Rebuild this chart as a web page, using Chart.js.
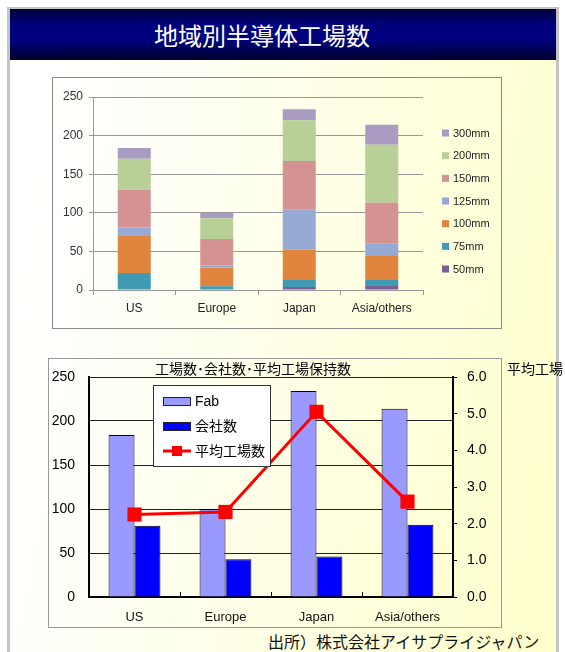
<!DOCTYPE html>
<html>
<head>
<meta charset="utf-8">
<script src="https://cdn.jsdelivr.net/npm/chart.js@4.4.1/dist/chart.umd.min.js"></script>
<style>
  html, body { margin: 0; padding: 0; background: #fff; }
  body { width: 565px; height: 652px; position: relative; overflow: hidden;
         font-family: "Liberation Sans", "Noto Sans CJK JP", sans-serif; }
  #frame { position: absolute; left: 7px; top: 7px; width: 546px; height: 660px;
           border: 3px solid #c4c4c4; border-bottom: none;
           background: linear-gradient(100deg, #ffffff 0%, #fffffa 22%, #ffffe2 60%, #ffffcc 100%); }
  #titlebar { position: absolute; left: 10px; top: 9px; width: 546px; height: 51px;
              background: linear-gradient(to bottom, #000038 0%, #00007c 30%, #000080 60%, #00002c 100%); }
  #title { position: absolute; left: 154px; top: 20px; color: #fff; font-size: 24px;
           font-family: "Noto Sans CJK JP", sans-serif; line-height: 30px; white-space: nowrap; }
  .box { position: absolute; border: 1px solid #8a8a8a; box-sizing: border-box; }
  canvas { position: absolute; }
  .txt { position: absolute; white-space: nowrap; font-family: "Noto Sans CJK JP", sans-serif; color: #000; }
</style>
</head>
<body>
<div id="frame"></div>
<div id="titlebar"></div>
<div id="title">地域別半導体工場数</div>

<div class="box" style="left:52px;top:77px;width:450px;height:252px;"></div>
<canvas id="chart1" width="450" height="252" style="left:52px;top:77px;"></canvas>

<div class="box" style="left:48px;top:358px;width:454px;height:270px;border-color:#999;"></div>
<canvas id="chart2" width="454" height="270" style="left:48px;top:358px;"></canvas>
<div class="txt" style="left:155px;top:358px;font-size:14px;line-height:20px;">工場数･会社数･平均工場保持数</div>
<div class="txt" style="left:507px;top:358px;font-size:14px;line-height:20px;">平均工場</div>
<div class="txt" style="left:268px;top:630px;font-size:16px;line-height:22px;color:#111;">出所）株式会社アイサプライジャパン</div>

<script>
// regions
const regions = ["US", "Europe", "Japan", "Asia/others"];

// fabs by wafer size (stacked)
const sizeLabels = ["50mm", "75mm", "100mm", "125mm", "150mm", "200mm", "300mm"];
const fab50 = [1, 1, 4, 6];
const fab75 = [21, 4, 10, 7];
const fab100 = [49, 24, 38, 31];
const fab125 = [10, 3, 52, 16];
const fab150 = [49, 34, 63, 53];
const fab200 = [40, 27, 53, 75];
const fab300 = [14, 7, 14, 26];
const sizeColors = ["#7a5c96", "#3f9bb3", "#e0843e", "#97aad5", "#d49292", "#b9cf98", "#a99bc2"];

// second chart
const fabCount = [184, 100, 234, 214];
const companyCount = [81, 43, 46, 82];
const avgFabs = [2.25, 2.32, 5.05, 2.6];
const leftTicks = [0, 50, 100, 150, 200, 250];
const rightTicks = [0, 1, 2, 3, 4, 5, 6];

Chart.defaults.font.family = "'Liberation Sans', 'Noto Sans CJK JP', sans-serif";
Chart.defaults.animation = false;

// legend for chart 1, drawn right of the plot (top = 300mm)
const sizeLegend = {
  id: "sizeLegend",
  afterDraw(chart) {
    const ctx = chart.ctx;
    const ds = chart.data.datasets;
    ctx.save();
    ctx.font = "11px 'Liberation Sans', sans-serif";
    ctx.textBaseline = "middle";
    let y = 56;
    for (let i = ds.length - 1; i >= 0; i--) {
      ctx.fillStyle = ds[i].backgroundColor;
      ctx.fillRect(390, y - 3.5, 7, 7);
      ctx.fillStyle = "#222";
      ctx.fillText(ds[i].label, 401, y + 0.5);
      y += 22.67;
    }
    ctx.restore();
  }
};

let stackData = [fab50, fab75, fab100, fab125, fab150, fab200, fab300];
let datasets1 = [];
for (let i = 0; i < sizeLabels.length; i++) {
  datasets1.push({
    label: sizeLabels[i],
    data: stackData[i],
    backgroundColor: sizeColors[i],
    categoryPercentage: 0.8,
    barPercentage: 0.5,
  });
}

new Chart(document.getElementById("chart1"), {
  type: "bar",
  data: { labels: regions, datasets: datasets1 },
  options: {
    responsive: false,
    layout: { padding: { left: 11, right: 79, top: 20, bottom: 14 } },
    plugins: { legend: { display: false }, tooltip: { enabled: false } },
    scales: {
      x: {
        stacked: true,
        grid: { offset: true, drawOnChartArea: false, tickLength: 5, color: "#999" },
        border: { color: "#999" },
        ticks: { color: "#222", font: { size: 12 }, padding: 6 },
        afterFit: (s) => { s.height = 25; },
      },
      y: {
        stacked: true,
        min: 0,
        max: 250,
        ticks: { stepSize: 50, color: "#333", font: { size: 12 }, padding: 6 },
        grid: { color: "#999", tickLength: 4 },
        border: { color: "#999" },
        afterFit: (s) => { s.width = 30; },
      },
    },
  },
  plugins: [sizeLegend],
});

// legend box + inner tick marks for chart 2
const fabLegend = {
  id: "fabLegend",
  afterDraw(chart) {
    const ctx = chart.ctx;
    const ca = chart.chartArea;
    const xs = chart.scales.x;
    ctx.save();
    // small ticks between categories, pointing up
    ctx.strokeStyle = "#000";
    ctx.lineWidth = 1;
    for (let i = 1; i < regions.length; i++) {
      let x = Math.round((xs.getPixelForValue(i - 1) + xs.getPixelForValue(i)) / 2) + 0.5;
      ctx.beginPath();
      ctx.moveTo(x, ca.bottom);
      ctx.lineTo(x, ca.bottom - 5);
      ctx.stroke();
    }
    // legend
    const bx = ca.left + 64, by = ca.top + 8;
    ctx.fillStyle = "#fff";
    ctx.fillRect(bx, by, 117, 81);
    ctx.strokeStyle = "#333";
    ctx.strokeRect(bx + 0.5, by + 0.5, 117, 81);
    const ds = chart.data.datasets;
    ctx.font = "14px 'Liberation Sans', 'Noto Sans CJK JP', sans-serif";
    ctx.textBaseline = "middle";
    for (let i = 0; i < ds.length; i++) {
      let cy = by + 16 + i * 25;
      if (ds[i].type === "line") {
        ctx.strokeStyle = ds[i].borderColor;
        ctx.lineWidth = 3;
        ctx.beginPath();
        ctx.moveTo(bx + 10, cy);
        ctx.lineTo(bx + 38, cy);
        ctx.stroke();
        ctx.fillStyle = ds[i].pointBackgroundColor;
        ctx.fillRect(bx + 19, cy - 5, 10, 10);
      } else {
        ctx.fillStyle = ds[i].backgroundColor;
        ctx.fillRect(bx + 10, cy - 4, 28, 8);
        ctx.strokeStyle = "#222";
        ctx.lineWidth = 1;
        ctx.strokeRect(bx + 10.5, cy - 3.5, 27, 8);
      }
      ctx.fillStyle = "#000";
      ctx.fillText(ds[i].label, bx + 42, cy + 1);
    }
    ctx.restore();
  }
};

new Chart(document.getElementById("chart2"), {
  type: "bar",
  data: {
    labels: regions,
    datasets: [
      {
        label: "Fab",
        data: fabCount,
        backgroundColor: "#9999ff",
        borderColor: "#000",
        borderWidth: 1,
        categoryPercentage: 0.57,
        barPercentage: 1,
        yAxisID: "y",
        order: 2,
      },
      {
        label: "会社数",
        data: companyCount,
        backgroundColor: "#0000ff",
        borderColor: "#000",
        borderWidth: 1,
        categoryPercentage: 0.57,
        barPercentage: 1,
        yAxisID: "y",
        order: 2,
      },
      {
        type: "line",
        label: "平均工場数",
        data: avgFabs,
        borderColor: "#ff0000",
        borderWidth: 3,
        pointStyle: "rect",
        pointRadius: 10,
        pointBackgroundColor: "#ff0000",
        pointBorderColor: "#ff0000",
        pointBorderWidth: 0,
        tension: 0,
        yAxisID: "y1",
        order: 1,
      },
    ],
  },
  options: {
    responsive: false,
    layout: { padding: { left: 4, right: 15, top: 19, bottom: 0 } },
    plugins: { legend: { display: false }, tooltip: { enabled: false } },
    scales: {
      x: {
        grid: { drawOnChartArea: false, drawTicks: false },
        border: { color: "#000", width: 2 },
        ticks: { color: "#111", font: { size: 13 }, padding: 13 },
        afterFit: (s) => { s.height = 31; },
      },
      y: {
        position: "left",
        min: 0,
        max: 250,
        afterBuildTicks: (s) => { s.ticks = leftTicks.map((v) => ({ value: v })); },
        ticks: { color: "#000", font: { size: 14 }, padding: 14 },
        grid: { color: "#222", drawTicks: false },
        border: { color: "#000", width: 2 },
        afterFit: (s) => { s.width = 37; s.paddingTop = 0; s.paddingBottom = 0; },
      },
      y1: {
        position: "right",
        min: 0,
        max: 6,
        afterBuildTicks: (s) => { s.ticks = rightTicks.map((v) => ({ value: v })); },
        ticks: { color: "#000", font: { size: 14 }, padding: 10, callback: (v) => v.toFixed(1) },
        grid: { drawOnChartArea: false, tickLength: 4, color: "#000" },
        border: { color: "#000", width: 2 },
        afterFit: (s) => { s.width = 34; s.paddingTop = 0; s.paddingBottom = 0; },
      },
    },
  },
  plugins: [fabLegend],
});
</script>
</body>
</html>
